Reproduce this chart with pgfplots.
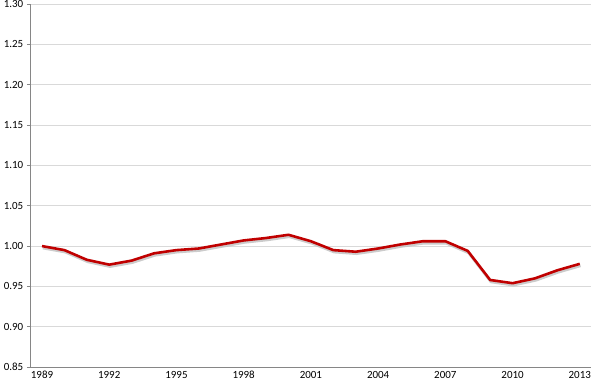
\documentclass[border=0pt]{standalone}
\usepackage{pgfplots}
\pgfplotsset{compat=1.18}
\usepackage{fontspec}
\setmainfont{Carlito}
\definecolor{linered}{RGB}{192,0,0}
\definecolor{gridgray}{RGB}{217,217,217}
\definecolor{axgray}{RGB}{134,134,134}
\begin{document}
\begin{tikzpicture}
\begin{axis}[
  scale only axis,
  width=560bp, height=363bp,
  xmin=-0.5, xmax=24.5,
  ymin=0.85, ymax=1.30,
  ytick={0.85,0.90,...,1.31},
  xtick={0,3,...,24},
  xticklabels={1989,1992,1995,1998,2001,2004,2007,2010,2013},
  extra x ticks={-0.5,0.5,...,24.6},
  extra x tick labels={},
  extra x tick style={major tick length=4bp, tick style={axgray, line width=0.6pt}},
  major x tick style={draw=none},
  axis x line*=bottom, axis y line*=left,
  axis line style={axgray, line width=0.7pt, -},
  tick align=outside,
  major tick length=4bp,
  ytick style={axgray, line width=0.6pt},
  ymajorgrids, grid style={gridgray, line width=0.7pt},
  yticklabel style={/pgf/number format/fixed, /pgf/number format/fixed zerofill, /pgf/number format/precision=2},
  /pgf/number format/assume math mode=true,
  ticklabel style={font=\fontsize{11}{13}\selectfont, text=black},
  xticklabel style={anchor=north, yshift=3.5bp},
  clip=false,
]
\pgfplotstableread{
x y
0 1.000
1 0.995
2 0.983
3 0.977
4 0.982
5 0.991
6 0.995
7 0.997
8 1.002
9 1.007
10 1.010
11 1.014
12 1.006
13 0.995
14 0.993
15 0.997
16 1.002
17 1.006
18 1.006
19 0.994
20 0.958
21 0.954
22 0.960
23 0.970
24 0.978
}\data
\addplot[gray!50, opacity=0.8, line width=2.6pt, xshift=0.8bp, yshift=-2bp, line join=round] table {\data};
\addplot[linered, line width=2.6pt, line join=round] table {\data};
\end{axis}
\pgfresetboundingbox
\path[use as bounding box] ([xshift=-30.8bp,yshift=-15bp]current axis.south west) rectangle ([xshift=4bp,yshift=4bp]current axis.north east);
\end{tikzpicture}
\end{document}
